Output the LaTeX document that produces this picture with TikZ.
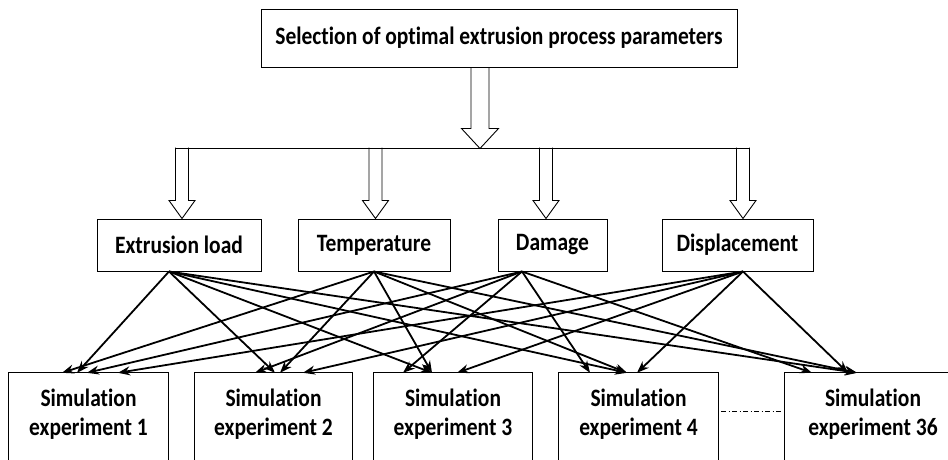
\documentclass[tikz,border=0pt]{standalone}
\usepackage{fontspec}
\setmainfont{Carlito}[FakeStretch=0.86,Ligatures=NoCommon]
\usetikzlibrary{arrows.meta,calc}
% hollow down arrow: tip, total length, half shaft width, half head width, head length
\newcommand\hollowdown[5]{%
  \draw[hollow] ($(#1)+(-#3,-#2)$) -- ($(#1)+(-#3,-#5)$) -- ($(#1)+(-#4,-#5)$)
    -- (#1) -- ($(#1)+(#4,-#5)$) -- ($(#1)+(#3,-#5)$) -- ($(#1)+(#3,-#2)$);}
\begin{document}
\begin{tikzpicture}[x=1pt,y=-1pt,
  box/.style={draw,line width=1pt,inner sep=0pt,align=center,
    font=\fontsize{25}{29}\selectfont\bfseries},
  simbox/.style={inner sep=0pt,align=center,minimum height=83,
    font=\fontsize{25}{29}\selectfont\bfseries},
  link/.style={line width=1.8pt,-{Stealth[length=12pt,width=9pt]}},
  hollow/.style={draw,line width=0.9pt,line join=miter},
  dashdot/.style={line width=0.7pt,dash pattern=on 5pt off 2.5pt on 1pt off 2.5pt}]
\clip (0,0) rectangle (948,459);
\fill[white] (0,0) rectangle (948,459);

% goal
\node[box,minimum width=476,minimum height=58] (top) at (499,38)
  {Selection of optimal extrusion process parameters};

% indicators
\node[box,minimum width=164,minimum height=52] (m1) at (179,245) {Extrusion load};
\node[box,minimum width=152,minimum height=52] (m2) at (374,245) {Temperature};
\node[box,minimum width=109,minimum height=52] (m3) at (552.5,245) {Damage};
\node[box,minimum width=151,minimum height=52] (m4) at (737.5,245) {Displacement};

% simulation runs (boxes run past the lower edge)
\node[simbox,minimum width=159] (e1) at (88.5,414.5) {Simulation\\experiment 1};
\node[simbox,minimum width=157] (e2) at (273.5,414.5) {Simulation\\experiment 2};
\node[simbox,minimum width=158] (e3) at (453,414.5) {Simulation\\experiment 3};
\node[simbox,minimum width=159] (e4) at (638.5,414.5) {Simulation\\experiment 4};
\node[simbox,minimum width=176] (e5) at (873,414.5) {Simulation\\experiment 36};
\foreach \e in {e1,e2,e3,e4,e5}
  \draw[line width=1pt] ([yshift=-30pt]\e.south west) -- (\e.north west)
    -- (\e.north east) -- ([yshift=-30pt]\e.south east);

% distribution bar with hollow arrows
\coordinate (hub) at ($(top.south)+(-19,81)$);
\coordinate (barL) at (175,148);
\coordinate (barR) at (750,148);
\hollowdown{hub}{81}{9}{18.5}{20}
\hollowdown{$(m1.north)+(3,0)$}{71}{6.5}{13}{18}
\hollowdown{$(m2.north)+(1.5,0)$}{71}{6.5}{13}{18}
\hollowdown{$(m3.north)+(-6.5,0)$}{71}{6.5}{13}{18}
\hollowdown{$(m4.north)+(5.5,0)$}{71}{6.5}{13}{18}
\draw[line width=0.9pt] (barL) -- (barR);

% connectors from each indicator to each run
\coordinate (sE) at ([xshift=-10pt]m1.south);
\coordinate (sT) at (m2.south);
\coordinate (sD) at ([xshift=-30.5pt]m3.south);
\coordinate (sP) at ([xshift=5.5pt]m4.south);
\foreach \s/\t/\dx in {E/e1/-11.5, E/e2/1.5, E/e3/-21, E/e4/-11.5, E/e5/-16,
                       T/e1/-26.5, T/e2/6.5, T/e3/-21, T/e4/-11.5, T/e5/-16,
                       D/e1/-1.5, D/e2/-18.5, D/e3/-50, D/e4/-48.5, D/e5/-61,
                       P/e1/29.5, P/e2/29.5, P/e3/4, P/e4/-1.5, P/e5/-25}
  \draw[link] (s\s) -- ([xshift=\dx pt]\t.north);

% ellipsis between run 4 and run 36
\draw[dashdot] ($(e4.north east)+(3,39)$) -- ($(e5.north west)+(-3,39)$);
\end{tikzpicture}
\end{document}
